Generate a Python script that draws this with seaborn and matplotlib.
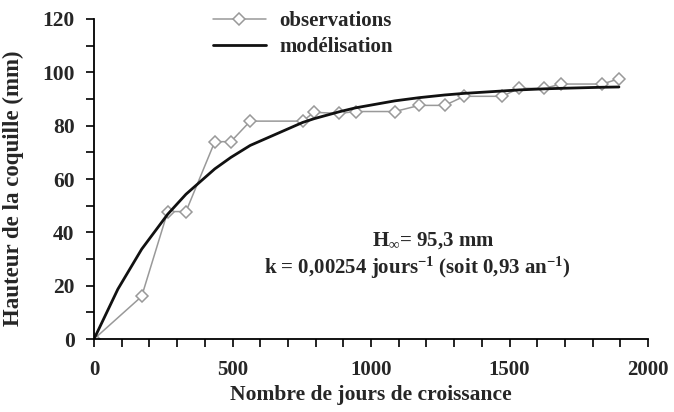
import numpy as np
import pandas as pd
import seaborn as sns
import matplotlib.pyplot as plt

# observed shell height (mm) vs growth days
obs_days = [0, 172, 266, 332, 436, 494, 564, 753, 794, 885, 945, 1086, 1174,
            1266, 1336, 1474, 1534, 1625, 1687, 1835, 1895]
obs_height = [0, 16, 47.8, 47.8, 74, 74, 81.7, 81.7, 85, 84.6, 85.3, 85.3, 87.6,
              87.6, 91, 91, 94, 94, 95.6, 95.6, 97.6]

# fitted curve
model_days = [0, 86, 172, 266, 332, 436, 494, 564, 753, 794, 885, 945, 1086, 1174,
              1266, 1336, 1474, 1534, 1625, 1687, 1835, 1895]
model_height = [0, 18.7, 33.7, 46.8, 54.3, 63.8, 68.1, 72.6, 81.2, 82.6, 85.2, 86.7,
                89.3, 90.5, 91.5, 92.1, 93.0, 93.4, 93.8, 94.0, 94.4, 94.5]

obs = pd.DataFrame({"jours": obs_days, "hauteur": obs_height})
mod = pd.DataFrame({"jours": model_days, "hauteur": model_height})

sns.set_style("ticks")
plt.rcParams['font.family'] = ['Liberation Serif', 'DejaVu Serif']
plt.rcParams['font.weight'] = 'bold'
plt.rcParams['mathtext.fontset'] = 'custom'
plt.rcParams['mathtext.rm'] = 'Liberation Serif:bold'
plt.rcParams['mathtext.bf'] = 'Liberation Serif:bold'
plt.rcParams['mathtext.it'] = 'Liberation Serif:bold'
plt.rcParams['mathtext.default'] = 'bf'

fig = plt.figure(figsize=(6.74, 4.12), dpi=100)
ax = fig.add_axes([0.1395, 0.177, 0.822, 0.777])

sns.lineplot(data=obs, x="jours", y="hauteur", ax=ax, color="#999999", lw=1.1,
             marker="D", markersize=6, markerfacecolor="white",
             markeredgecolor="#999999", markeredgewidth=1.1, label="observations")
sns.lineplot(data=mod, x="jours", y="hauteur", ax=ax, color="#111111", lw=2,
             label="modélisation")

ax.set_xlim(0, 2000)
ax.set_ylim(0, 120)
ax.set_xticks(range(0, 2001, 500))
ax.set_xticks(range(0, 2001, 100), minor=True)
ax.set_yticks(range(0, 121, 20))
ax.set_yticks(range(0, 121, 10), minor=True)
ax.tick_params(which="both", direction="out", length=6, width=1.2, color="black")
ax.tick_params(axis="x", labelsize=15, pad=9)
ax.tick_params(axis="y", labelsize=15.5, pad=8)
for s in ["left", "bottom"]:
    ax.spines[s].set_linewidth(1.3)
    ax.spines[s].set_color("black")
sns.despine(ax=ax)

ax.set_xlabel("Nombre de jours de croissance", fontsize=15.5, fontweight="bold")
ax.set_ylabel("Hauteur de la coquille (mm)", fontsize=16.5, fontweight="bold")
ax.xaxis.set_label_coords(0.5, -0.142)
ax.yaxis.set_label_coords(-0.126, 0.47)

leg = ax.legend(loc="upper left", bbox_to_anchor=(0.199, 1.05), frameon=False,
                fontsize=15, handlelength=2.55, handletextpad=0.65,
                labelspacing=0.28, borderaxespad=0)
for t in leg.get_texts():
    t.set_fontweight("bold")

ax.text(0.612, 0.309, r"H$_{\infty}$= 95,3 mm", transform=ax.transAxes,
        ha="center", va="center", fontsize=15, fontweight="bold")
ax.text(0.583, 0.222, r"k = 0,00254 jours$^{-1}$ (soit 0,93 an$^{-1}$)",
        transform=ax.transAxes, ha="center", va="center", fontsize=15,
        fontweight="bold")

fig.savefig("out.png", dpi=100)
